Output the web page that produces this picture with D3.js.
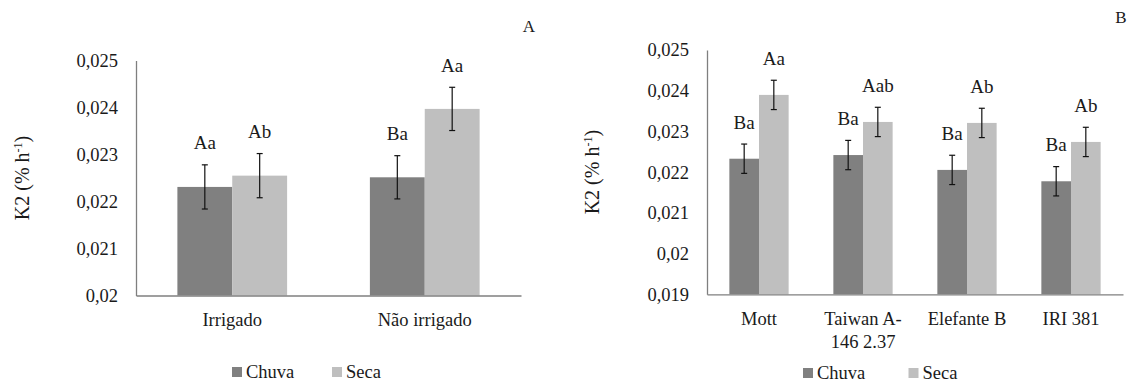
<!DOCTYPE html>
<html>
<head>
<meta charset="utf-8">
<script src="https://cdn.jsdelivr.net/npm/d3@7.9.0/dist/d3.min.js"></script>
<style>
  html, body { margin: 0; padding: 0; background: #fff; }
  svg { display: block; font-family: 'Liberation Serif', 'Times New Roman', serif; }
</style>
</head>
<body>
<svg id="chart" width="1130" height="383"></svg>
<script>
// series
const seriesNames = ['Chuva', 'Seca'];

// panel A
const categoriesA = ['Irrigado', 'Não irrigado'];
const chuvaA = [0.02231, 0.022515];
const secaA = [0.02255, 0.02397];
const errChuvaA = [0.00047, 0.00046];
const errSecaA = [0.00047, 0.00046];
const lettersChuvaA = ['Aa', 'Ba'];
const lettersSecaA = ['Ab', 'Aa'];
const ticksA = [0.02, 0.021, 0.022, 0.023, 0.024, 0.025];
const tickLabelsA = [['Irrigado'], ['Não irrigado']];

// panel B
const categoriesB = ['Mott', 'Taiwan A-146 2.37', 'Elefante B', 'IRI 381'];
const chuvaB = [0.02233, 0.02242, 0.022055, 0.021776];
const secaB = [0.023897, 0.023233, 0.023209, 0.022742];
const errChuvaB = [0.00036, 0.00036, 0.00036, 0.00036];
const errSecaB = [0.00036, 0.00036, 0.00036, 0.00036];
const lettersChuvaB = ['Ba', 'Ba', 'Ba', 'Ba'];
const lettersSecaB = ['Aa', 'Aab', 'Ab', 'Ab'];
const ticksB = [0.019, 0.02, 0.021, 0.022, 0.023, 0.024, 0.025];
const tickLabelsB = [['Mott'], ['Taiwan A-', '146 2.37'], ['Elefante B'], ['IRI 381']];

const colorScale = d3.scaleOrdinal().domain(seriesNames).range(['#808080', '#bfbfbf']);
const ptFormat = d3.formatLocale({ decimal: ',', thousands: '.', grouping: [3], currency: ['', ''] }).format('~g');
const textColor = '#1a1a1a';
const axisColor = '#7f7f7f';
const serif = "'Liberation Serif', 'Times New Roman', serif";

const svg = d3.select('#chart');

function drawPanel(p) {
  const g = svg.append('g');
  const x = d3.scaleBand().domain(p.categories).range([p.left, p.right]).paddingInner(0.43).paddingOuter(0.215);
  const xSub = d3.scaleBand().domain(seriesNames).range([0, x.bandwidth()]);
  const y = d3.scaleLinear().domain(d3.extent(p.ticks)).range([p.bottom, p.top]);

  // y axis
  const yAxis = g.append('g').attr('transform', `translate(${p.left},0)`)
    .call(d3.axisLeft(y).tickValues(p.ticks).tickFormat(ptFormat).tickSize(0).tickPadding(18))
    .attr('font-family', serif).attr('font-size', 18.5);
  yAxis.select('.domain').attr('stroke', axisColor).attr('stroke-width', 1.3);
  yAxis.selectAll('text').attr('fill', textColor);

  const rows = p.categories.map((c, i) => ({
    cat: c,
    vals: [
      { s: 'Chuva', v: p.chuva[i], e: p.errChuva[i], l: p.lettersChuva[i] },
      { s: 'Seca', v: p.seca[i], e: p.errSeca[i], l: p.lettersSeca[i] },
    ],
  }));

  const groups = g.selectAll('g.cat').data(rows).join('g')
    .attr('class', 'cat')
    .attr('transform', d => `translate(${x(d.cat)},0)`);

  groups.selectAll('rect').data(d => d.vals).join('rect')
    .attr('x', d => xSub(d.s))
    .attr('width', xSub.bandwidth())
    .attr('y', d => y(d.v))
    .attr('height', d => y.range()[0] - y(d.v))
    .attr('fill', d => colorScale(d.s));

  // error bars
  const err = groups.selectAll('g.err').data(d => d.vals).join('g').attr('class', 'err')
    .attr('stroke', '#111').attr('stroke-width', 1.2);
  const cx = d => xSub(d.s) + xSub.bandwidth() / 2;
  err.append('line').attr('x1', cx).attr('x2', cx).attr('y1', d => y(d.v + d.e)).attr('y2', d => y(d.v - d.e));
  err.append('line').attr('x1', d => cx(d) - 3).attr('x2', d => cx(d) + 3).attr('y1', d => y(d.v + d.e)).attr('y2', d => y(d.v + d.e));
  err.append('line').attr('x1', d => cx(d) - 3).attr('x2', d => cx(d) + 3).attr('y1', d => y(d.v - d.e)).attr('y2', d => y(d.v - d.e));

  // letters
  groups.selectAll('text.letter').data(d => d.vals).join('text')
    .attr('class', 'letter')
    .attr('x', cx)
    .attr('y', d => y(d.v + d.e) - 22)
    .attr('dy', '0.35em')
    .attr('text-anchor', 'middle')
    .attr('font-size', 19)
    .attr('fill', textColor)
    .text(d => d.l);

  // x axis
  const xAxis = g.append('g').attr('transform', `translate(0,${p.bottom})`)
    .call(d3.axisBottom(x).tickSize(0).tickFormat(''))
    .attr('font-family', serif).attr('font-size', 18.5);
  xAxis.select('.domain').attr('stroke', axisColor).attr('stroke-width', 1.3);
  xAxis.selectAll('.tick').each(function (d, i) {
    const t = d3.select(this).append('text')
      .attr('fill', textColor)
      .attr('text-anchor', 'middle')
      .attr('y', 24);
    p.tickLabels[i].forEach((line, k) => {
      t.append('tspan').attr('x', 0).attr('dy', k === 0 ? '0.35em' : 23).text(line);
    });
  });

  // y title
  const title = g.append('text')
    .attr('transform', `translate(${p.titleX},${(p.top + p.bottom) / 2}) rotate(-90)`)
    .attr('text-anchor', 'middle')
    .attr('dy', '0.35em')
    .attr('font-size', 20)
    .attr('fill', textColor);
  title.append('tspan').text('K2 (% h');
  title.append('tspan').attr('font-size', 12).attr('dy', -7).text('-1');
  title.append('tspan').attr('dy', 7).text(')');

  // legend
  const leg = g.append('g').attr('transform', `translate(${p.legendX},${p.legendY})`);
  seriesNames.forEach((s, i) => {
    const item = leg.append('g').attr('transform', `translate(${i * p.legendStep},0)`);
    item.append('rect').attr('x', 0).attr('y', -5).attr('width', 10).attr('height', 10).attr('fill', colorScale(s));
    item.append('text').attr('x', 14).attr('dy', '0.35em').attr('font-size', 18.5).attr('fill', textColor).text(s);
  });

  // panel letter
  g.append('text').attr('x', p.letterX).attr('y', p.letterY).attr('dy', '0.35em')
    .attr('text-anchor', 'middle').attr('font-size', 17).attr('fill', textColor).text(p.letter);
}

drawPanel({
  categories: categoriesA, chuva: chuvaA, seca: secaA, errChuva: errChuvaA, errSeca: errSecaA,
  lettersChuva: lettersChuvaA, lettersSeca: lettersSecaA, ticks: ticksA, tickLabels: tickLabelsA,
  left: 136, right: 521, top: 60.5, bottom: 295.5, titleX: 22,
  legendX: 232, legendY: 372, legendStep: 100, letter: 'A', letterX: 529, letterY: 26,
});

drawPanel({
  categories: categoriesB, chuva: chuvaB, seca: secaB, errChuva: errChuvaB, errSeca: errSecaB,
  lettersChuva: lettersChuvaB, lettersSeca: lettersSecaB, ticks: ticksB, tickLabels: tickLabelsB,
  left: 707, right: 1123, top: 50, bottom: 294.3, titleX: 592,
  legendX: 803, legendY: 373, legendStep: 105.5, letter: 'B', letterX: 1121, letterY: 17,
});
</script>
</body>
</html>
